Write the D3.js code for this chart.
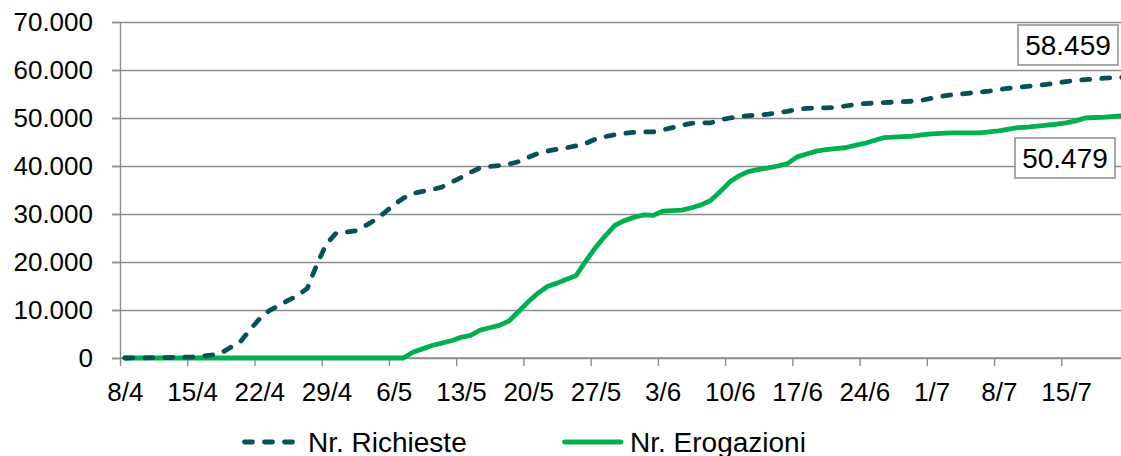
<!DOCTYPE html>
<html>
<head>
<meta charset="utf-8">
<script src="https://cdn.jsdelivr.net/npm/d3@7"></script>
<style>
  body { margin: 0; background: #fff; }
  svg { display: block; }
  svg text { font-family: "Liberation Sans", Arial, sans-serif; }
  .axis path, .axis line { stroke: #8c8c8c; stroke-width: 1.4; }
  .grid line { stroke: #8c8c8c; stroke-width: 1.4; }
  .grid path { display: none; }
</style>
</head>
<body>
<div id="chart"></div>
<script>
// first day of the series (8/4) and last day (21/7)
var startDay = new Date(2020, 3, 8);
var endDay = new Date(2020, 6, 21);

// tick labels, one per week
var tickLabels = ["8/4", "15/4", "22/4", "29/4", "6/5", "13/5", "20/5", "27/5",
                  "3/6", "10/6", "17/6", "24/6", "1/7", "8/7", "15/7"];
var yTicks = [0, 10000, 20000, 30000, 40000, 50000, 60000, 70000];

// Nr. Richieste, one value per day from 8/4
var richieste = [
  0, 10, 30, 60, 90, 120, 160, 200, 350, 600,
  1000, 2200, 3300, 5800, 8100, 9800, 10900, 12000, 13000, 14500,
  19500, 23800, 26000, 26200, 26500, 27500, 28700, 30200, 31900, 33300,
  34300, 34700, 35100, 35600, 36600, 37600, 38700, 39600, 39900, 40100,
  40400, 40900, 41800, 42600, 43100, 43500, 43800, 44200, 44700, 45600,
  46100, 46500, 46800, 47000, 47100, 47100, 47500, 48000, 48500, 48900,
  49000, 49000, 49600, 50000, 50300, 50500, 50600, 50800, 51100, 51400,
  51800, 52000, 52100, 52100, 52200, 52500, 52800, 53000, 53100, 53200,
  53300, 53400, 53500, 53700, 54100, 54500, 54800, 55000, 55200, 55400,
  55600, 55900, 56200, 56400, 56600, 56800, 57000, 57300, 57600, 57800,
  58000, 58100, 58300, 58400, 58459
];

// Nr. Erogazioni, one value per day from 8/4
var erogazioni = [
  0, 0, 0, 0, 0, 0, 0, 0, 0, 0,
  0, 0, 0, 0, 0, 0, 0, 0, 0, 0,
  0, 0, 0, 0, 0, 0, 0, 0, 0, 0,
  1200, 1900, 2600, 3100, 3600, 4300, 4700, 5800, 6300, 6800,
  7700, 9700, 11700, 13500, 14900, 15600, 16400, 17200, 20200, 23000,
  25400, 27600, 28600, 29300, 29800, 29700, 30600, 30700, 30800, 31300,
  31900, 32800, 34700, 36700, 38000, 38900, 39300, 39600, 40000, 40500,
  41900, 42500, 43100, 43400, 43600, 43800, 44300, 44700, 45300, 45900,
  46000, 46100, 46200, 46500, 46700, 46800, 46900, 46900, 46900, 46900,
  47100, 47300, 47700, 48000, 48100, 48300, 48500, 48700, 49000, 49400,
  50000, 50100, 50200, 50350, 50479
];

var seriesNames = ["Nr. Richieste", "Nr. Erogazioni"];
var lastLabels = ["58.459", "50.479"];

var W = 1121, H = 456;
var plotLeft = 120, plotTop = 22, plotBottom = 358;

var days = d3.timeDay.range(startDay, d3.timeDay.offset(endDay, 1));
var tickDates = tickLabels.map(function(t, i) { return d3.timeDay.offset(startDay, 7 * i); });

// x: 8/4 at the axis, 15/7 at the last tick
var x = d3.scaleTime()
  .domain([startDay, tickDates[tickDates.length - 1]])
  .range([plotLeft, 1061.3]);
var halfDay = (x(d3.timeDay.offset(startDay, 1)) - x(startDay)) / 2;

var y = d3.scaleLinear().domain([0, 70000]).range([plotBottom, plotTop]);

var it = d3.formatLocale({decimal: ",", thousands: ".", grouping: [3], currency: ["€", ""]});
var fmt = it.format(",");

var svg = d3.select("#chart").append("svg")
  .attr("width", W)
  .attr("height", H);

// gridlines
svg.append("g")
  .attr("class", "grid")
  .attr("transform", "translate(" + (plotLeft - 8) + ",0)")
  .call(d3.axisRight(y).tickValues(yTicks).tickSize(W - plotLeft + 8).tickFormat(""));

// y axis
var yAxis = svg.append("g")
  .attr("class", "axis")
  .attr("transform", "translate(" + plotLeft + ",0)")
  .call(d3.axisLeft(y).tickValues(yTicks).tickSize(8).tickSizeOuter(0).tickPadding(19).tickFormat(fmt));
yAxis.selectAll("text")
  .style("font-size", "26px")
  .attr("fill", "#000");

// x axis
var xAxis = svg.append("g")
  .attr("class", "axis")
  .attr("transform", "translate(0," + plotBottom + ")")
  .call(d3.axisBottom(x).tickValues(tickDates).tickSize(8).tickSizeOuter(0).tickPadding(17)
    .tickFormat(function(d, i) { return tickLabels[i]; }));
xAxis.select(".domain").attr("d", "M" + plotLeft + ",0H" + W);
xAxis.selectAll("text")
  .attr("x", halfDay)
  .style("font-size", "26px")
  .attr("fill", "#000");

// lines, points at the middle of each day
var line = function(values) {
  return d3.line()
    .x(function(d, i) { return x(days[i]) + halfDay; })
    .y(function(d) { return y(d); })(values);
};

svg.append("path")
  .attr("d", line(erogazioni))
  .attr("fill", "none")
  .attr("stroke", "#00b050")
  .attr("stroke-width", 4.8)
  .attr("stroke-linejoin", "round")
  .attr("stroke-linecap", "round");

svg.append("path")
  .attr("d", line(richieste))
  .attr("fill", "none")
  .attr("stroke", "#0a5157")
  .attr("stroke-width", 4.8)
  .attr("stroke-dasharray", "8,12")
  .attr("stroke-linejoin", "round")
  .attr("stroke-linecap", "round");

// boxed end values
var boxes = [
  {x: 1018, y: 25, text: lastLabels[0]},
  {x: 1015, y: 138, text: lastLabels[1]}
];
boxes.forEach(function(b) {
  svg.append("rect")
    .attr("x", b.x).attr("y", b.y)
    .attr("width", 100).attr("height", 40)
    .attr("fill", "#fff")
    .attr("stroke", "#8c8c8c")
    .attr("stroke-width", 1.5);
  svg.append("text")
    .attr("x", b.x + 50).attr("y", b.y + 30)
    .attr("text-anchor", "middle")
    .style("font-size", "28px")
    .text(b.text);
});

// legend
var lg = svg.append("g");
lg.append("line")
  .attr("x1", 244.5).attr("x2", 293).attr("y1", 442).attr("y2", 442)
  .attr("stroke", "#0a5157").attr("stroke-width", 4.8)
  .attr("stroke-dasharray", "8,12").attr("stroke-linecap", "round");
lg.append("text")
  .attr("x", 308).attr("y", 452)
  .style("font-size", "28px")
  .text(seriesNames[0]);
lg.append("line")
  .attr("x1", 564.5).attr("x2", 621).attr("y1", 442).attr("y2", 442)
  .attr("stroke", "#00b050").attr("stroke-width", 4.8)
  .attr("stroke-linecap", "round");
lg.append("text")
  .attr("x", 630).attr("y", 452)
  .style("font-size", "28px")
  .text(seriesNames[1]);
</script>
</body>
</html>
